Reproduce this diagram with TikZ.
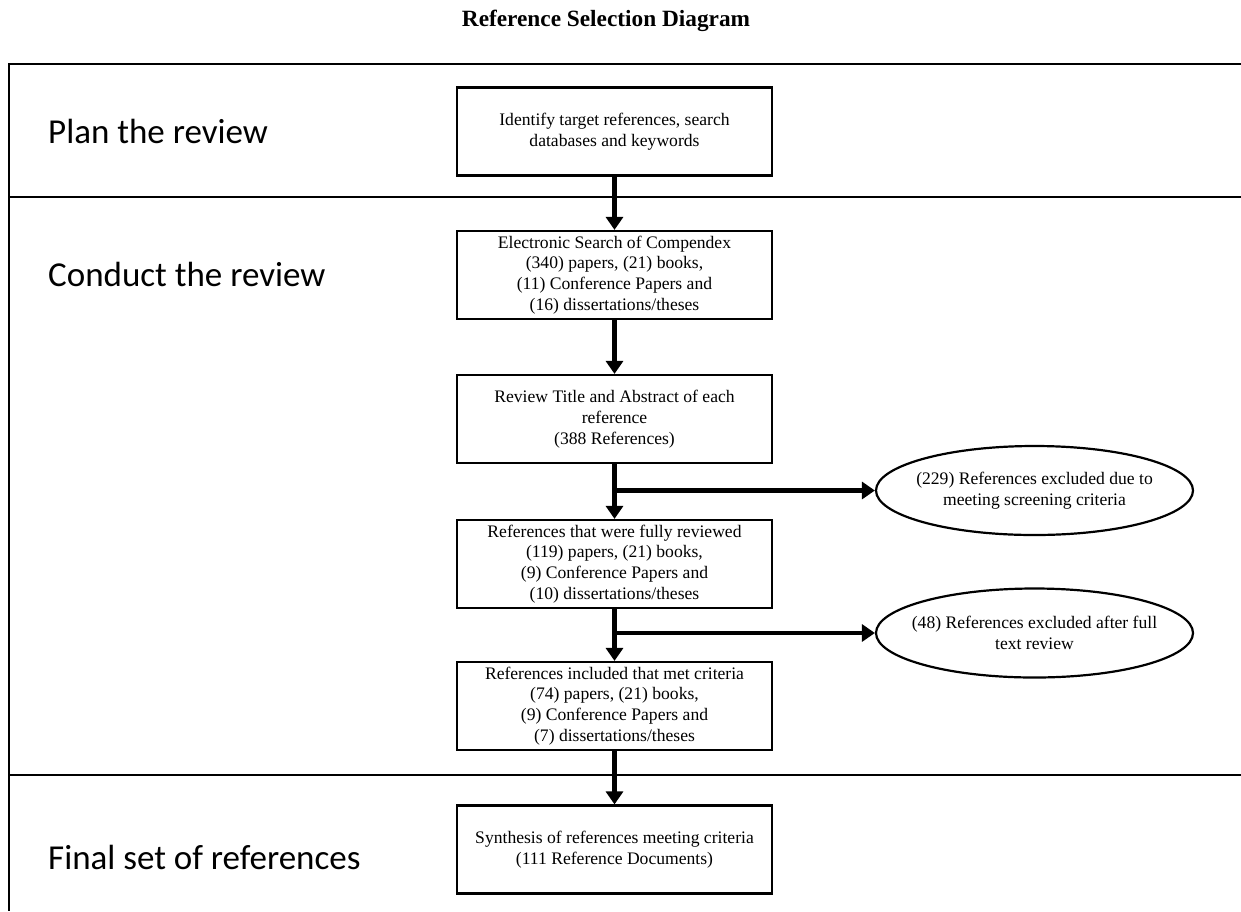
\documentclass[tikz,border=0pt]{standalone}
\usepackage{fontspec}
\setmainfont{Liberation Serif}
\newfontfamily\labelfont{Carlito}
\usetikzlibrary{arrows.meta,shapes.geometric}

\begin{document}
\begin{tikzpicture}[x=1pt,y=-1pt,
  frame/.style={line width=2pt},
  stepbox/.style={draw,line width=2.2pt,minimum width=315pt,minimum height=88pt,
    inner sep=0pt,align=center,font=\fontsize{17.6}{20.8}\selectfont},
  excluded/.style={draw,ellipse,line width=2.2pt,minimum width=317pt,minimum height=89pt,
    inner xsep=-50pt,inner ysep=0pt,align=center,font=\fontsize{17.6}{20.8}\selectfont},
  phase/.style={anchor=base west,inner sep=0pt,font=\labelfont\fontsize{35}{40}\selectfont},
  flow/.style={line width=4.5pt,-{Triangle[length=13pt,width=17pt]}},
]
\useasboundingbox (0,0) rectangle (1241,911);

% title
\node[font=\bfseries\fontsize{23.3}{28}\selectfont,anchor=base] (title) at (606,26) {Reference Selection Diagram};

% phase frame: top edge, left edge and the two dividers
\draw[frame] (1241,64) -- (9,64) -- (9,911);
\draw[frame] (9,197) -- (1241,197);
\draw[frame] (9,775) -- (1241,775);

% phase labels
\node[phase] (p1) at (48,143) {Plan the review};
\node[phase] (p2) at (48,286) {Conduct the review};
\node[phase] (p3) at (48,869) {Final set of references};

% flow steps
\node[stepbox] (b1) at (614.5,131.5) {Identify target references, search\\databases and keywords};
\node[stepbox] (b2) at (614.5,275) {Electronic Search of Compendex\\(340) papers, (21) books,\\(11) Conference Papers and\\(16) dissertations/theses};
\node[stepbox] (b3) at (614.5,419) {Review Title and Abstract of each\\reference\\(388 References)};
\node[stepbox] (b4) at (614.5,564) {References that were fully reviewed\\(119) papers, (21) books,\\(9) Conference Papers and\\(10) dissertations/theses};
\node[stepbox] (b5) at (614.5,706) {References included that met criteria\\(74) papers, (21) books,\\(9) Conference Papers and\\(7) dissertations/theses};
\node[stepbox] (b6) at (614.5,849.5) {Synthesis of references meeting criteria\\(111 Reference Documents)};

% exclusions
\node[excluded] (e1) at (1034.5,490.5) {(229) References excluded due to\\meeting screening criteria};
\node[excluded] (e2) at (1034.5,633) {(48) References excluded after full\\text review};

% branch points on the main flow
\coordinate (j1) at (b3.south |- e1.west);
\coordinate (j2) at (b4.south |- e2.west);

% connectors
\draw[flow] (b1) -- (b2);
\draw[flow] (b2) -- (b3);
\draw[flow] (b3) -- (b4);
\draw[flow] (b4) -- (b5);
\draw[flow] (b5) -- (b6);
\draw[flow] ([xshift=-2.25pt]j1) -- (e1.west);
\draw[flow] ([xshift=-2.25pt]j2) -- (e2.west);
\end{tikzpicture}
\end{document}
